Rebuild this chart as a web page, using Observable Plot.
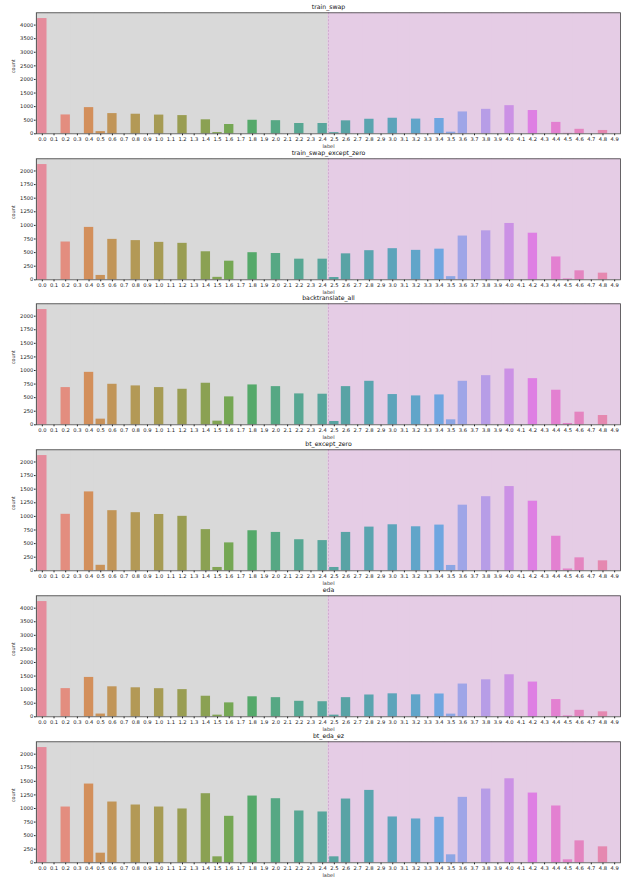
<!DOCTYPE html>
<html><head><meta charset="utf-8">
<script src="https://cdn.jsdelivr.net/npm/d3@7"></script>
<script src="https://cdn.jsdelivr.net/npm/@observablehq/plot@0.6"></script>
<style>
body{margin:0;background:#fff;}
#chart{position:relative;width:622px;height:879px;overflow:hidden;}
#chart svg{position:absolute;left:0;}
</style></head><body><div id="chart"></div>
<script>
const labels = ["0.0","0.1","0.2","0.3","0.4","0.5","0.6","0.7","0.8","0.9",
"1.0","1.1","1.2","1.3","1.4","1.5","1.6","1.7","1.8","1.9",
"2.0","2.1","2.2","2.3","2.4","2.5","2.6","2.7","2.8","2.9",
"3.0","3.1","3.2","3.3","3.4","3.5","3.6","3.7","3.8","3.9",
"4.0","4.1","4.2","4.3","4.4","4.5","4.6","4.7","4.8","4.9"];

const trainSwap = [4240,0,694,0,963,80,743,0,720,0,
688,0,670,0,515,45,342,0,498,0,
483,0,379,0,379,42,477,0,535,0,
572,0,541,0,563,58,804,0,900,0,
1035,0,856,0,420,16,165,0,122,0];

const trainSwapExceptZero = [2118,0,694,0,963,80,743,0,720,0,
688,0,670,0,515,45,342,0,498,0,
483,0,379,0,379,42,477,0,535,0,
572,0,541,0,563,58,804,0,900,0,
1035,0,856,0,420,16,165,0,122,0];

const backtranslateAll = [2122,0,685,0,966,104,746,0,716,0,
685,0,654,0,765,67,514,0,734,0,
703,0,569,0,563,61,703,0,801,0,
557,0,532,0,550,92,801,0,905,0,
1027,0,850,0,636,24,232,0,171,0];

const btExceptZero = [2118,0,1038,0,1450,101,1105,0,1068,0,
1035,0,1001,0,757,61,513,0,736,0,
705,0,571,0,555,61,705,0,803,0,
846,0,809,0,840,98,1206,0,1362,0,
1548,0,1279,0,635,33,238,0,183,0];

const eda = [4244,0,1038,0,1450,101,1105,0,1068,0,
1035,0,1001,0,757,61,513,0,736,0,
705,0,571,0,555,61,705,0,803,0,
846,0,809,0,840,98,1206,0,1362,0,
1548,0,1279,0,635,33,238,0,183,0];

const btEdaEz = [2122,0,1027,0,1450,177,1119,0,1064,0,
1027,0,991,0,1272,110,856,0,1229,0,
1180,0,954,0,936,110,1174,0,1333,0,
844,0,807,0,838,147,1205,0,1358,0,
1547,0,1284,0,1046,55,404,0,294,0];

const titles = ["train_swap","train_swap_except_zero","backtranslate_all","bt_except_zero","eda","bt_eda_ez"];
const yTicks4000 = [0,500,1000,1500,2000,2500,3000,3500,4000];
const yTicks2000 = [0,250,500,750,1000,1250,1500,1750,2000];
const boundaryLabel = "2.5";

// seaborn husl palette (h=.01, s=.9, l=.65) desaturated by .75
const M = [[3.2406,-1.5372,-0.4986],[-0.9689,1.8758,0.0415],[0.0557,-0.2040,1.0570]];
const refU = 0.19784, refV = 0.46834, labE = 0.008856, labK = 903.3;
function maxChroma(L, H) {
  const hrad = H * Math.PI / 180, sinH = Math.sin(hrad), cosH = Math.cos(hrad);
  const sub1 = Math.pow(L + 16, 3) / 1560896;
  const sub2 = sub1 > labE ? sub1 : L / labK;
  let result = Infinity;
  for (const [m1, m2, m3] of M) {
    const top = (0.99915 * m1 + 1.05122 * m2 + 1.14460 * m3) * sub2;
    const rbottom = 0.86330 * m3 - 0.17266 * m2;
    const lbottom = 0.12949 * m3 - 0.38848 * m1;
    const bottom = (rbottom * sinH + lbottom * cosH) * sub2;
    for (const t of [0, 1]) {
      const C = L * (top - 1.05122 * t) / (bottom + 0.17266 * sinH * t);
      if (C > 0 && C < result) result = C;
    }
  }
  return result;
}
function huslToRgb(H, S, L) {
  const C = maxChroma(L, H) / 100 * S;
  const hr = H * Math.PI / 180;
  const U = Math.cos(hr) * C, V = Math.sin(hr) * C;
  const t = (L + 16) / 116;
  const Y = t ** 3 > labE ? t ** 3 : (116 * t - 16) / labK;
  const varU = U / (13 * L) + refU, varV = V / (13 * L) + refV;
  const X = -(9 * Y * varU) / ((varU - 4) * varV - varU * varV);
  const Z = (9 * Y - 15 * varV * Y - varV * X) / (3 * varV);
  return M.map(([a, b, c]) => {
    const v = a * X + b * Y + c * Z;
    const s = v <= 0.0031308 ? 12.92 * v : 1.055 * Math.pow(v, 1 / 2.4) - 0.055;
    return Math.max(0, Math.min(1, s));
  });
}
const n = labels.length;
const colors = labels.map((_, i) => {
  const h = ((i / n + 0.01) % 1) * 359;
  const [r, g, b] = huslToRgb(h, 0.9 * 99, 0.65 * 99);
  const c = d3.hsl(d3.rgb(r * 255, g * 255, b * 255));
  c.s *= 0.75;
  return c.formatHex();
});

const series = [trainSwap, trainSwapExceptZero, backtranslateAll, btExceptZero, eda, btEdaEz];
const panelTicks = [yTicks4000, yTicks2000, yTicks2000, yTicks2000, yTicks4000, yTicks2000];

const W = 622, mL = 36, mR = 2, mT = 12.3, mB = 12.7, H = 146, period = 145.7;
const step = (W - mL - mR) / n;
const chart = document.getElementById("chart");

series.forEach((values, k) => {
  const data = labels.map((label, i) => ({label, count: values[i], i})).filter(d => d.count > 0);
  const ymax = d3.max(values) * 1.05;
  const bg = labels.map((label, i) => ({label, low: labels.indexOf(boundaryLabel) > i}));
  const svg = Plot.plot({
    width: W, height: H,
    marginLeft: mL, marginRight: mR, marginTop: mT, marginBottom: mB,
    style: {background: "transparent", overflow: "visible", fontFamily: "DejaVu Sans", fontSize: "5.2px", color: "#222"},
    x: {domain: labels, paddingInner: 0.2, paddingOuter: 0.1, label: null, tickSize: 2, tickPadding: 1.2},
    y: {domain: [0, ymax], label: null, ticks: panelTicks[k], tickFormat: d => String(d), tickSize: 2, tickPadding: 1.2},
    color: {type: "identity"},
    marks: [
      Plot.barY(bg, {x: "label", y1: 0, y2: ymax, fill: d => d.low ? "#d9d9d9" : "#e5cce5", insetLeft: -0.1 * step - 0.5, insetRight: -0.1 * step - 0.5}),
      Plot.ruleX([boundaryLabel], {dx: -step / 2, stroke: "#c79bc7", strokeWidth: 0.7, strokeDasharray: "2,1.5"}),
      Plot.barY(data, {x: "label", y: "count", fill: d => colors[d.i], fillOpacity: 0.88}),
      Plot.frame({stroke: "#444", strokeWidth: 0.8}),
      Plot.text([titles[k]], {frameAnchor: "top", dy: -6, lineAnchor: "middle", fontSize: 6.2, fill: "#111"}),
      Plot.text(["count"], {frameAnchor: "left", dx: -23, rotate: -90, lineAnchor: "middle", fontSize: 5, fill: "#333"}),
      Plot.text(["label"], {frameAnchor: "bottom", dy: 12.8, lineAnchor: "middle", fontSize: 5, fill: "#333"})
    ]
  });
  svg.style.top = (k * period) + "px";
  chart.appendChild(svg);
});
</script></body></html>
